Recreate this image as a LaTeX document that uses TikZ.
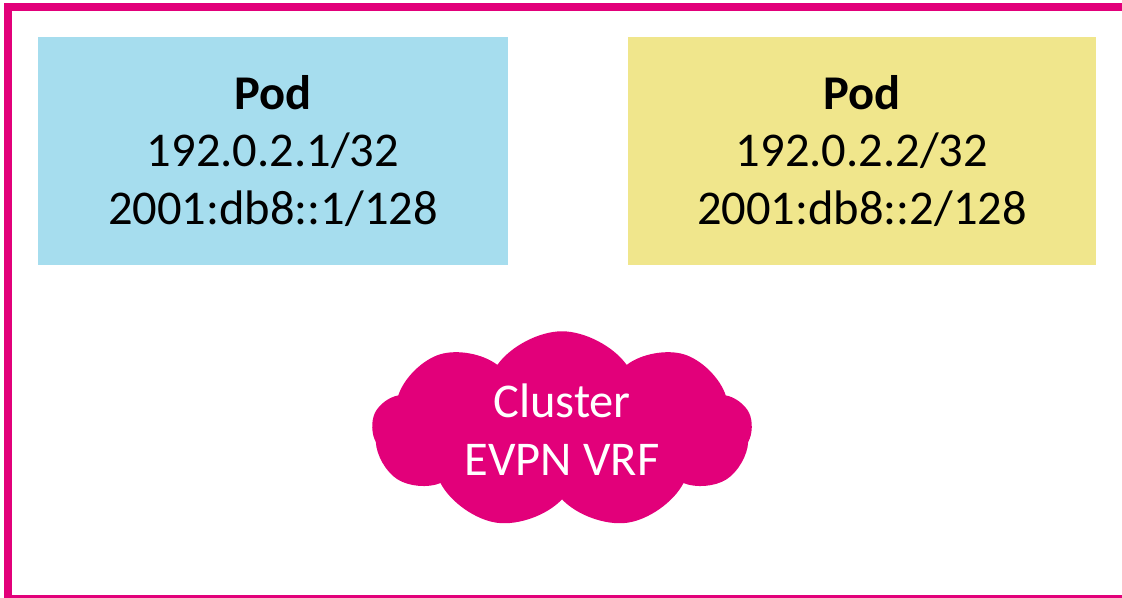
\documentclass[tikz,border=0pt]{standalone}
\usepackage{fontspec}
\setmainfont{Carlito}
\usetikzlibrary{positioning,shapes.symbols}
\definecolor{vrfpink}{HTML}{E2007A}
\definecolor{podblue}{HTML}{A6DDEE}
\definecolor{podyellow}{HTML}{F0E68C}
\tikzset{
  podbox/.style={minimum width=9.4cm,minimum height=4.56cm,align=center,
    font=\fontsize{27.6}{33}\selectfont,inner sep=0pt},
  vrfcloud/.style={cloud,cloud puffs=9,cloud puff arc=110,aspect=2,fill=vrfpink,
    text=white,align=center,minimum width=7.6cm,minimum height=3.95cm,
    font=\fontsize{27.6}{33}\selectfont,inner sep=0pt}
}
\begin{document}
\begin{tikzpicture}[x=0.02cm,y=-0.02cm]
  \useasboundingbox (0,0) rectangle (1122,598);
  \clip (0,0) rectangle (1122,598);
  % outer frame, runs off right and bottom edges
  \draw[vrfpink,line width=0.16cm] (8,7) rectangle (1135,599);
  \node[podbox,fill=podblue] (pod1) at (273,151) {\textbf{Pod}\\192.0.2.1/32\\2001:db8::1/128};
  \node[podbox,fill=podyellow,minimum width=9.36cm] (pod2) at (862,151) {\textbf{Pod}\\192.0.2.2/32\\2001:db8::2/128};
  \node[vrfcloud] (cluster) at (562,430) {Cluster\\EVPN VRF};
\end{tikzpicture}
\end{document}
